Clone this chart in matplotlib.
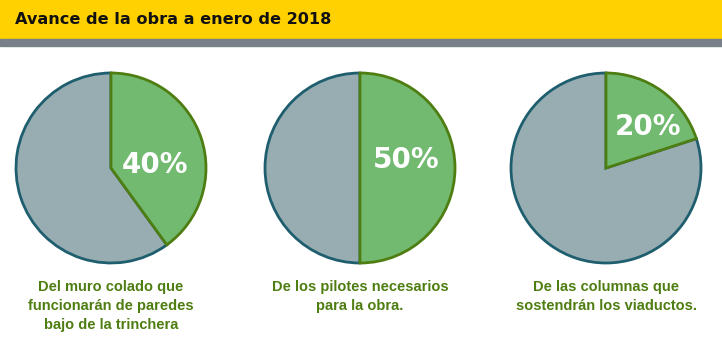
import matplotlib
matplotlib.use("Agg")
import matplotlib.pyplot as plt

title = "Avance de la obra a enero de 2018"
percents = [40, 50, 20]
captions = [
    "Del muro colado que\nfuncionarán de paredes\nbajo de la trinchera",
    "De los pilotes necesarios\npara la obra.",
    "De las columnas que\nsostendrán los viaductos.",
]
label_pos = [(155, 165), (406, 160), (648, 127)]

W, H = 722, 354
fig = plt.figure(figsize=(W / 100, H / 100), dpi=100)
ax = fig.add_axes([0, 0, 1, 1])

# header
ax.add_patch(plt.Rectangle((0, 0), W, 39, color="#FFD100", zorder=0))
ax.add_patch(plt.Rectangle((0, 39), W, 7, color="#7A8089", zorder=0))
ax.text(15, 20, title, fontsize=11.6, fontweight="bold", color="#111111",
        va="center", ha="left", family=["DejaVu Sans"])

centers_x = [111, 360, 606]
cy = 168
r = 95
green = "#73BA71"
grey = "#97ADB2"
for cx, p, cap, (lx, ly) in zip(centers_x, percents, captions, label_pos):
    wedges, _ = ax.pie([p, 100 - p], colors=[green, grey], startangle=-90,
                       counterclock=True, center=(cx, cy), radius=r,
                       wedgeprops=dict(linewidth=0), frame=True)
    wedges[1].set_edgecolor("#1F5E6E")
    wedges[1].set_linewidth(2)
    wedges[0].set_edgecolor("#4E7D12")
    wedges[0].set_linewidth(2)
    wedges[0].set_zorder(3)
    ax.text(lx, ly, f"{p}%", fontsize=20, fontweight="bold", color="white",
            ha="center", va="center", family=["DejaVu Sans"], zorder=5)
    ax.text(cx, 280, cap, fontsize=10.5, fontweight="bold", color="#4E7D12",
            ha="center", va="top", linespacing=1.45,
            family=["Liberation Sans", "DejaVu Sans"])

ax.set_xlim(0, W)
ax.set_ylim(H, 0)
ax.set_aspect("equal")
ax.axis("off")
fig.savefig("out.png", dpi=100, facecolor="white")
